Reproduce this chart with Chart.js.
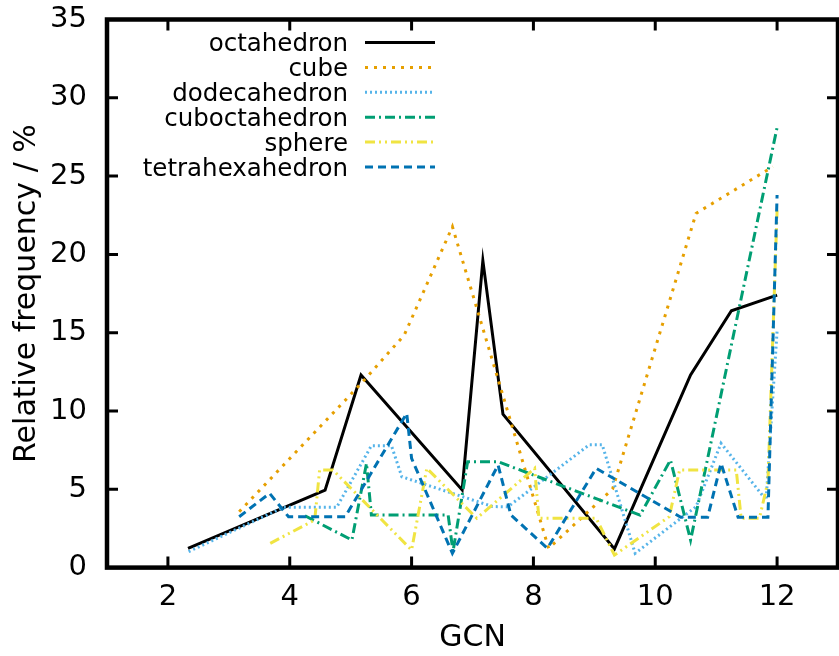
<!DOCTYPE html>
<html>
<head>
<meta charset="utf-8">
<script src="https://cdn.jsdelivr.net/npm/chart.js@4.4.1/dist/chart.umd.min.js"></script>
<style>
  html, body { margin: 0; padding: 0; background: #fff; }
</style>
</head>
<body>
<canvas id="gcnPlot" width="839" height="656"></canvas>
<script>
// GCN (x) and relative frequency in % (y), one pair of arrays per shape
const octaX = [2.33, 4.58, 5.17, 6.83, 7.17, 7.5, 9.33, 10.58, 11.25, 12];
const octaY = [1.23, 4.95, 12.3, 4.96, 19.6, 9.8, 1.19, 12.3, 16.4, 17.4];

const cubeX = [3.17, 5.2, 5.88, 6.67, 8.25, 9.3, 10.67, 11.93];
const cubeY = [3.57, 11.87, 14.85, 21.77, 1.23, 5.02, 22.62, 25.6];

const dodecaX = [2.34, 3.9, 4.77, 5.34, 5.67, 5.84, 7.33, 7.58, 8.92, 9.13, 9.67, 10.67, 11.08, 11.82, 12];
const dodecaY = [1.02, 3.85, 3.85, 7.78, 7.78, 5.8, 3.9, 3.88, 7.85, 7.85, 0.91, 3.89, 7.94, 4.32, 15.1];

const cuboX = [4.25, 5.02, 5.26, 5.34, 6.6, 6.68, 6.92, 7.42, 9.75, 10.25, 10.58, 11.33, 12];
const cuboY = [3.31, 1.76, 6.66, 3.36, 3.36, 1.02, 6.76, 6.76, 3.35, 6.87, 1.76, 15.7, 28.1];

const sphereX = [3.68, 4.41, 4.49, 4.71, 6.0, 6.25, 7.07, 8.02, 8.09, 9.03, 9.33, 10.23, 10.4, 11.33, 11.41, 11.71, 11.85, 12];
const sphereY = [1.55, 3.04, 6.23, 6.23, 1.12, 6.34, 3.15, 6.34, 3.15, 3.15, 0.8, 3.25, 6.23, 6.23, 3.15, 3.15, 5.49, 22.8];

const tetraX = [3.17, 3.67, 3.98, 4.91, 5.92, 6.0, 6.67, 7.42, 7.63, 8.23, 9.03, 10.42, 10.86, 11.08, 11.36, 11.85, 12];
const tetraY = [3.25, 4.74, 3.25, 3.25, 9.85, 6.98, 0.91, 6.55, 3.36, 1.23, 6.34, 3.21, 3.21, 6.66, 3.21, 3.21, 23.79];

const shapeNames = ['octahedron', 'cube', 'dodecahedron', 'cuboctahedron', 'sphere', 'tetrahexahedron'];
const xTicks = [2, 4, 6, 8, 10, 12];
const yTicks = [0, 5, 10, 15, 20, 25, 30, 35];

function toPoints(xs, ys) {
    return xs.map(function (x, i) { return {x: x, y: ys[i]}; });
}

const seriesX = [octaX, cubeX, dodecaX, cuboX, sphereX, tetraX];
const seriesY = [octaY, cubeY, dodecaY, cuboY, sphereY, tetraY];
const colors = ['#000000', '#e69f00', '#56b4e9', '#009e73', '#f0e442', '#0072b2'];
const dashes = [[], [3, 6], [2, 3], [10, 4, 2, 4], [10, 4, 2, 4, 2, 4], [8, 5]];

const datasets = shapeNames.map(function (name, i) {
    return {
        label: name,
        data: toPoints(seriesX[i], seriesY[i]),
        borderColor: colors[i],
        borderDash: dashes[i],
        borderWidth: 3,
        pointRadius: 0,
        tension: 0,
        fill: false,
        order: shapeNames.length - i // later series drawn on top, like gnuplot
    };
});

// box around the plot plus inward ticks on all four sides
const frameBox = {
    id: 'frameBox',
    afterDatasetsDraw(chart) {
        const {ctx, chartArea: a, scales} = chart;
        const len = 11;
        ctx.save();
        ctx.strokeStyle = '#000';
        ctx.lineWidth = 3;
        ctx.setLineDash([]);
        ctx.beginPath();
        scales.x.ticks.forEach(function (t) {
            const px = scales.x.getPixelForValue(t.value);
            ctx.moveTo(px, a.bottom); ctx.lineTo(px, a.bottom - len);
            ctx.moveTo(px, a.top); ctx.lineTo(px, a.top + len);
        });
        scales.y.ticks.forEach(function (t) {
            const py = scales.y.getPixelForValue(t.value);
            ctx.moveTo(a.left, py); ctx.lineTo(a.left + len, py);
            ctx.moveTo(a.right, py); ctx.lineTo(a.right - len, py);
        });
        ctx.stroke();
        ctx.lineWidth = 4.5;
        ctx.strokeRect(a.left, a.top, a.right - a.left, a.bottom - a.top);
        ctx.restore();
    }
};

// gnuplot style key: right aligned text, line sample on its right
const keyBox = {
    id: 'keyBox',
    afterDraw(chart) {
        const ctx = chart.ctx;
        ctx.save();
        ctx.font = '24.5px "DejaVu Sans"';
        ctx.textAlign = 'right';
        ctx.textBaseline = 'alphabetic';
        chart.data.datasets.forEach(function (ds, i) {
            const y = 42.5 + i * 24.9;
            ctx.fillStyle = '#000';
            ctx.fillText(ds.label, 348, y + 8.5);
            ctx.strokeStyle = ds.borderColor;
            ctx.lineWidth = ds.borderWidth;
            ctx.setLineDash(ds.borderDash);
            ctx.beginPath();
            ctx.moveTo(365, y);
            ctx.lineTo(435, y);
            ctx.stroke();
        });
        ctx.restore();
    }
};

document.addEventListener('DOMContentLoaded', function () {
    Chart.defaults.font.family = '"DejaVu Sans", sans-serif';
    Chart.defaults.color = '#000';

    const ctx = document.getElementById('gcnPlot').getContext('2d');
    new Chart(ctx, {
        type: 'line',
        data: {datasets: datasets},
        plugins: [frameBox, keyBox],
        options: {
            responsive: false,
            animation: false,
            devicePixelRatio: 1,
            layout: {padding: {top: 19.5, right: 1, left: 0, bottom: 0}},
            plugins: {legend: {display: false}, tooltip: {enabled: false}},
            scales: {
                // label gap comes from an invisible tick length, so it does not
                // count as extra padding at the top of the chart area
                x: {
                    type: 'linear',
                    min: 1,
                    max: 13,
                    afterBuildTicks: function (axis) { axis.ticks = xTicks.map(function (v) { return {value: v}; }); },
                    afterFit: function (axis) { axis.height = 88.4; },
                    grid: {display: false, drawTicks: true, tickLength: 12},
                    border: {display: false},
                    ticks: {font: {size: 29}, padding: 0, maxRotation: 0},
                    title: {display: true, text: 'GCN', font: {size: 30}, padding: {top: 0, bottom: 0}}
                },
                y: {
                    type: 'linear',
                    min: 0,
                    max: 35,
                    afterBuildTicks: function (axis) { axis.ticks = yTicks.map(function (v) { return {value: v}; }); },
                    afterFit: function (axis) { axis.width = 107; },
                    grid: {display: false, drawTicks: true, tickLength: 20},
                    border: {display: false},
                    ticks: {font: {size: 29}, padding: 0},
                    title: {display: true, text: 'Relative frequency / %', font: {size: 30}, padding: {top: 9, bottom: 0}}
                }
            }
        }
    });
});
</script>
</body>
</html>
